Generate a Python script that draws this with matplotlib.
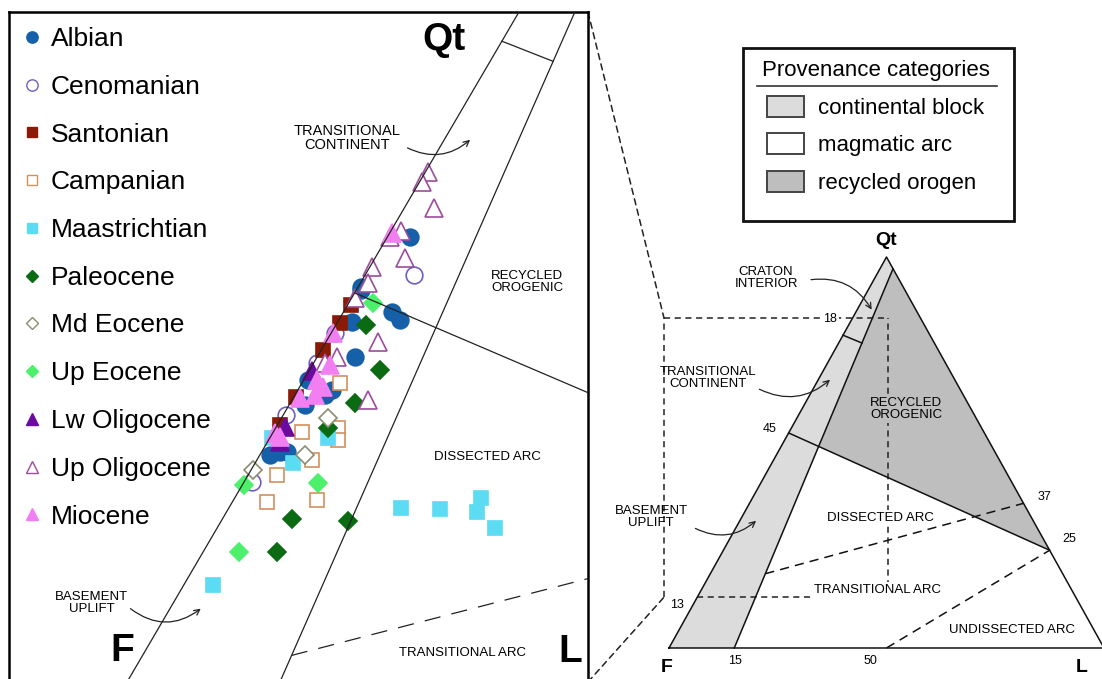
import matplotlib
matplotlib.use("Agg")
import matplotlib.pyplot as plt
from matplotlib.lines import Line2D
from matplotlib.patches import Patch, Polygon, Rectangle, ConnectionPatch
import numpy as np

plt.rcParams['font.family'] = ['Liberation Sans', 'DejaVu Sans']

#%% Data: QtFL modes in percent (Qt = total quartz, L = lithics, F = 100 - Qt - L)
albian_qt = [60.6, 55.6, 55.3, 53.1, 52.3, 52.1, 48.6, 45.4, 44.9, 46.4, 39.2, 39.2, 43.9, 38.9]
albian_l = [1.9, 0.2, 0.4, 4.1, 5.2, 1.2, 3.2, 2.9, 2.5, 0.3, 1.6, 2.2, 1.3, 0.9]
cenomanian_qt = [56.8, 48.0, 51.0, 36.2, 42.9]
cenomanian_l = [4.1, 0.3, 0.3, 0.7, 0.2]
santonian_qt = [53.8, 52.0, 49.3, 44.7, 41.9]
santonian_l = [0.3, 0.3, 0.2, 0.2, 0.2]
campanian_qt = [46.1, 41.6, 40.4, 41.2, 38.4, 36.9, 34.2, 34.4]
campanian_l = [3.2, 5.3, 5.9, 2.4, 4.7, 2.5, 3.0, 7.1]
maastrichtian_qt = [40.6, 40.6, 38.1, 26.0, 33.6, 33.5, 34.6, 33.2, 31.7]
maastrichtian_l = [4.9, 0.2, 3.2, 2.5, 14.6, 18.0, 20.9, 21.3, 23.6]
paleocene_qt = [51.8, 47.3, 44.1, 41.6, 32.5, 32.3, 29.3]
paleocene_l = [2.6, 6.0, 5.5, 4.4, 5.9, 10.8, 6.3]
md_eocene_qt = [42.6, 38.9, 37.4]
md_eocene_l = [3.9, 3.8, 0.2]
up_eocene_qt = [54.0, 35.9, 36.1, 29.3]
up_eocene_l = [2.1, 0.2, 6.3, 3.0]
lw_oligocene_qt = [47.2, 41.7, 40.2]
lw_oligocene_l = [0.3, 0.7, 1.1]
up_oligocene_qt = [67.0, 66.0, 63.4, 61.2, 60.6, 58.5, 57.6, 56.0, 54.5, 50.1, 48.6, 48.0, 44.4]
up_oligocene_l = [0.2, 0.2, 2.5, 0.8, 0.2, 2.5, 0.2, 0.6, 0.3, 4.4, 1.7, 1.0, 6.4]
miocene_qt = [61.0, 51.0, 46.4, 45.7, 44.6, 41.1, 40.7, 47.8, 44.9]
miocene_l = [0.2, 0.2, 1.1, 2.0, 0.6, 0.2, 0.8, 1.5, 1.7]

# Dickinson QtFL field boundaries, endpoints as (Qt, L)
inner_base = (0, 15)      # continental block limit on F-L side
inner_top = (97, 3)       # continental block limit near Qt apex
craton_line = [(80, 0), (78, 5.35)]
recycled_line = [(55, 0), (25, 75)]
arc_dash_line = [(19, 12.65), (37, 63)]
undissected_line = [(0, 50), (25, 75)]
inset_box = dict(x0=-1.15, x1=50.3, qt0=13, qt1=84.4)

W, H = 1102, 679


def tern(qt, l):
    qt = np.asarray(qt, float)
    l = np.asarray(l, float)
    return l + qt / 2.0, qt


def inner_l(qt):
    return inner_base[1] + (inner_top[1] - inner_base[1]) * qt / inner_top[0]


def seg(ax, pts, **kw):
    qt = [p[0] for p in pts]
    l = [p[1] for p in pts]
    x, y = tern(qt, l)
    ax.plot(x, y, **kw)


#%% Figure and axes
fig = plt.figure(figsize=(W / 100, H / 100), dpi=100)
ax_r = fig.add_axes([0, 0, 1, 1])
ax_r.set_xlim(-153.8, 99.54)
ax_r.set_ylim(-7.93, 165.73)
ax_r.axis('off')

ax_l = fig.add_axes([9 / W, (H - 682) / H, 579 / W, 670 / H])
ax_l.set_xlim(-1.84, 47.31)
ax_l.set_ylim(16.36, 82.9)
ax_l.set_xticks([])
ax_l.set_yticks([])
for s in ax_l.spines.values():
    s.set_linewidth(1.8)
ax_l.spines['bottom'].set_visible(False)

#%% Right overview triangle
# intersection of recycled-orogen boundary with the continental block limit
qa, la = recycled_line[0]
qb, lb = recycled_line[1]
qs = np.linspace(0, 100, 100001)
rec_l = la + (lb - la) * (qs - qa) / (qb - qa)
qi = qs[np.argmin(np.abs(rec_l - inner_l(qs)))]
li = inner_l(qi)

light, dark = '#dcdcdc', '#bebebe'
band = np.array([tern(*p) for p in [(0, 0), inner_base, inner_top, (100, 0)]])
ax_r.add_patch(Polygon(band, closed=True, fc=light, ec='none', zorder=1))
orogen = np.array([tern(*p) for p in [inner_top, (qi, li), recycled_line[1]]])
ax_r.add_patch(Polygon(orogen, closed=True, fc=dark, ec='none', zorder=1))

lk = dict(color='#111111', lw=1.1, zorder=3)
seg(ax_r, [(0, 0), (0, 100), (100, 0), (0, 0)], **lk)
seg(ax_r, [inner_base, inner_top], **lk)
seg(ax_r, craton_line, **lk)
seg(ax_r, recycled_line, **lk)
dk = dict(color='#111111', lw=1.1, ls=(0, (6, 4)), zorder=3)
seg(ax_r, arc_dash_line, **dk)
seg(ax_r, undissected_line, **dk)

# dashed box marking the enlarged area
bx = inset_box
bk = dict(color='#222222', lw=1.1, ls=(0, (4, 3)), zorder=2)
ax_r.plot([bx['x0'], bx['x1']], [bx['qt1']] * 2, **bk)
ax_r.plot([bx['x0'], bx['x0']], [bx['qt0'], bx['qt1']], **bk)
ax_r.plot([bx['x1'], bx['x1']], [bx['qt0'], bx['qt1']], **bk)
ax_r.plot([bx['qt0'] / 2, bx['x1']], [bx['qt0']] * 2, **bk)
for xyA, xyB in [((1, 1), (bx['x0'], bx['qt1'])), ((1, 0), (bx['x0'], bx['qt0']))]:
    con = ConnectionPatch(xyA=xyA, coordsA=ax_l.transAxes, xyB=xyB, coordsB=ax_r.transData,
                          color='#222222', lw=1.1, ls=(0, (4, 3)), zorder=0)
    fig.add_artist(con)

wb = dict(facecolor='white', edgecolor='none', pad=1.5)
small = 9.5
ax_r.text(49.9, 104.1, 'Qt', ha='center', va='center', fontsize=14, fontweight='bold')
ax_r.text(-0.5, -4.9, 'F', ha='center', va='center', fontsize=14, fontweight='bold')
ax_r.text(94.9, -4.9, 'L', ha='center', va='center', fontsize=14, fontweight='bold')
ax_r.text(22.3, 94.6, 'CRATON\nINTERIOR', ha='center', va='center', fontsize=small, linespacing=1.0)
ax_r.text(37.0, 84.2, '18', ha='center', va='center', fontsize=9, bbox=wb, zorder=4)
ax_r.text(9.0, 69.1, 'TRANSITIONAL\nCONTINENT', ha='center', va='center', fontsize=small, linespacing=1.0)
ax_r.text(54.5, 61.1, 'RECYCLED\nOROGENIC', ha='center', va='center', fontsize=small, linespacing=1.0,
          bbox=dict(facecolor=dark, edgecolor='none', pad=1.5), zorder=4)
ax_r.text(23.2, 56.0, '45', ha='center', va='center', fontsize=9)
ax_r.text(-4.1, 33.5, 'BASEMENT\nUPLIFT', ha='center', va='center', fontsize=small, linespacing=1.0)
ax_r.text(48.5, 33.2, 'DISSECTED ARC', ha='center', va='center', fontsize=small, bbox=wb, zorder=4)
ax_r.text(86.4, 38.6, '37', ha='center', va='center', fontsize=9)
ax_r.text(92.0, 27.9, '25', ha='center', va='center', fontsize=9)
ax_r.text(48.0, 14.8, 'TRANSITIONAL ARC', ha='center', va='center', fontsize=small, bbox=wb, zorder=4)
ax_r.text(1.8, 11.0, '13', ha='center', va='center', fontsize=9, bbox=wb, zorder=4)
ax_r.text(78.9, 4.6, 'UNDISSECTED ARC', ha='center', va='center', fontsize=small)
ax_r.text(15.2, -3.3, '15', ha='center', va='center', fontsize=9)
ax_r.text(46.4, -3.3, '50', ha='center', va='center', fontsize=9)
ak = dict(arrowstyle='->', color='#222222', lw=0.9)
ax_r.annotate('', xy=(46.9, 85.9), xytext=(32.0, 94.1),
              arrowprops=dict(connectionstyle='arc3,rad=-0.35', **ak))
ax_r.annotate('', xy=(37.5, 69.1), xytext=(20.2, 66.5),
              arrowprops=dict(connectionstyle='arc3,rad=0.35', **ak))
ax_r.annotate('', xy=(20.5, 33.0), xytext=(5.5, 30.9),
              arrowprops=dict(connectionstyle='arc3,rad=0.35', **ak))

# provenance legend
prov_handles = [Patch(fc=light, ec='#444444', lw=1.4),
                Patch(fc='white', ec='#444444', lw=1.4),
                Patch(fc=dark, ec='#444444', lw=1.4)]
prov_labels = ['continental block', 'magmatic arc', 'recycled orogen']
leg_r = ax_r.legend(prov_handles, prov_labels, title='Provenance categories',
                    loc='upper left', bbox_to_anchor=(762 / W, 1 - 60 / H),
                    bbox_transform=fig.transFigure, frameon=False, fontsize=16,
                    title_fontsize=16, borderpad=0, borderaxespad=0,
                    handlelength=1.65, handleheight=1.07, handletextpad=0.65,
                    labelspacing=0.66)
fig.add_artist(Rectangle((743 / W, 1 - 221 / H), 271 / W, 173 / H, transform=fig.transFigure,
                         fill=False, lw=2.0, ec='#111111'))
fig.add_artist(Line2D([757 / W, 997 / W], [1 - 86 / H] * 2, transform=fig.transFigure,
                      color='#333333', lw=1.2))

#%% Left enlarged panel
lk2 = dict(color='#222222', lw=0.9, zorder=5)
seg(ax_l, [(0, 0), (100, 0)], **lk2)
seg(ax_l, [inner_base, inner_top], **lk2)
seg(ax_l, craton_line, **lk2)
seg(ax_l, recycled_line, **lk2)
seg(ax_l, arc_dash_line, color='#222222', lw=0.9, ls=(0, (13, 9)), zorder=5)

series = [
    ('Albian', albian_qt, albian_l),
    ('Cenomanian', cenomanian_qt, cenomanian_l),
    ('Santonian', santonian_qt, santonian_l),
    ('Campanian', campanian_qt, campanian_l),
    ('Maastrichtian', maastrichtian_qt, maastrichtian_l),
    ('Paleocene', paleocene_qt, paleocene_l),
    ('Md Eocene', md_eocene_qt, md_eocene_l),
    ('Up Eocene', up_eocene_qt, up_eocene_l),
    ('Lw Oligocene', lw_oligocene_qt, lw_oligocene_l),
    ('Up Oligocene', up_oligocene_qt, up_oligocene_l),
    ('Miocene', miocene_qt, miocene_l),
]
styles = [
    dict(marker='o', mfc='#1560a8', mec='#1560a8', ms=12),
    dict(marker='o', mfc='white', mec='#6f5fc0', ms=12),
    dict(marker='s', mfc='#8a1a06', mec='#8a1a06', ms=10.5),
    dict(marker='s', mfc='white', mec='#d4905c', ms=10.5),
    dict(marker='s', mfc='#5cdcf2', mec='#5cdcf2', ms=10.5),
    dict(marker='D', mfc='#0b6b12', mec='#0b6b12', ms=9),
    dict(marker='D', mfc='white', mec='#8c8c70', ms=9),
    dict(marker='D', mfc='#4cf06a', mec='#4cf06a', ms=9),
    dict(marker='^', mfc='#6a0a9e', mec='#6a0a9e', ms=12.5),
    dict(marker='^', mfc='white', mec='#9c4c9c', ms=12.5),
    dict(marker='^', mfc='#f27ff2', mec='#f27ff2', ms=12.5),
]
handles = []
for (name, qt, l), st in zip(series, styles):
    x, y = tern(qt, l)
    ax_l.plot(x, y, ls='none', mew=1.2, zorder=3, **st)
    handles.append(Line2D([], [], ls='none', mew=1.0, label=name, **st))

ax_l.legend(handles=handles, loc='upper left', bbox_to_anchor=(12.5 / 579, (682 - 27) / 670),
            frameon=False, fontsize=19, borderpad=0, borderaxespad=0, handlelength=0.8,
            handletextpad=0.3, labelspacing=0.9, markerscale=0.68)

ax_l.text(0.751, 0.958, 'Qt', transform=ax_l.transAxes, ha='center', va='center',
          fontsize=28, fontweight='bold')
ax_l.text(0.195, 0.046, 'F', transform=ax_l.transAxes, ha='center', va='center',
          fontsize=28, fontweight='bold')
ax_l.text(0.969, 0.045, 'L', transform=ax_l.transAxes, ha='center', va='center',
          fontsize=28, fontweight='bold')
ax_l.text(0.584, 0.812, 'TRANSITIONAL\nCONTINENT', transform=ax_l.transAxes, ha='center',
          va='center', fontsize=10.5, linespacing=1.0)
ax_l.text(0.895, 0.597, 'RECYCLED\nOROGENIC', transform=ax_l.transAxes, ha='center',
          va='center', fontsize=small, linespacing=1.0)
ax_l.text(0.827, 0.336, 'DISSECTED ARC', transform=ax_l.transAxes, ha='center', va='center',
          fontsize=small)
ax_l.text(0.784, 0.043, 'TRANSITIONAL ARC', transform=ax_l.transAxes, ha='center', va='center',
          fontsize=small)
ax_l.text(0.143, 0.118, 'BASEMENT\nUPLIFT', transform=ax_l.transAxes, ha='center', va='center',
          fontsize=small, linespacing=1.0)
ax_l.annotate('', xy=(0.800, 0.812), xytext=(0.684, 0.799), xycoords='axes fraction',
              arrowprops=dict(connectionstyle='arc3,rad=0.35', **ak))
ax_l.annotate('', xy=(0.335, 0.112), xytext=(0.206, 0.112), xycoords='axes fraction',
              arrowprops=dict(connectionstyle='arc3,rad=0.4', **ak))

fig.savefig('out.png', dpi=100)
